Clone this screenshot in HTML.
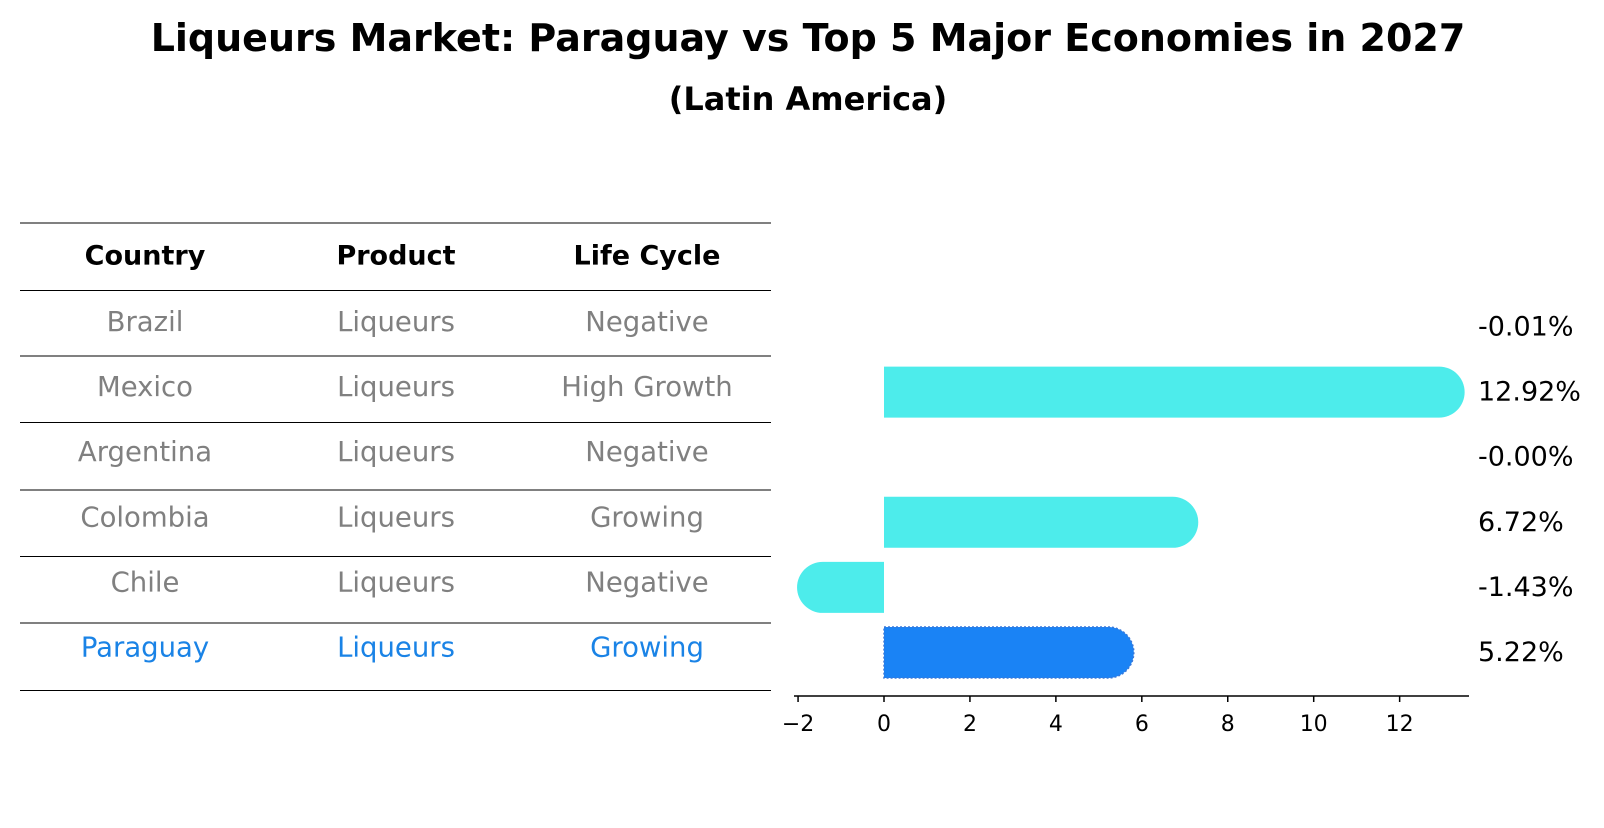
<!DOCTYPE html>
<html><head><meta charset="utf-8"><style>
body{margin:0;background:#fff;font-family:"Liberation Sans","DejaVu Sans",sans-serif;}
</style></head><body>
<svg id="chart" width="1604" height="823" xmlns="http://www.w3.org/2000/svg" font-family="DejaVu Sans, Liberation Sans, sans-serif">
<text x="808" y="38" text-anchor="middle" dominant-baseline="central" font-size="38" font-weight="bold">Liqueurs Market: Paraguay vs Top 5 Major Economies in 2027</text>
<text x="808" y="99" text-anchor="middle" dominant-baseline="central" font-size="32" font-weight="bold">(Latin America)</text>
<g id="table"></g>
<g id="bars"></g>
</svg>
<script>
const countries=["Brazil","Mexico","Argentina","Colombia","Chile","Paraguay"];
const products=["Liqueurs","Liqueurs","Liqueurs","Liqueurs","Liqueurs","Liqueurs"];
const lifeCycles=["Negative","High Growth","Negative","Growing","Negative","Growing"];
const values=[-0.01,12.92,-0.00,6.72,-1.43,5.22];
const valueLabels=["-0.01%","12.92%","-0.00%","6.72%","-1.43%","5.22%"];
const ticks=[-2,0,2,4,6,8,10,12];
const NS="http://www.w3.org/2000/svg";
function mk(tag,attrs,parent){const e=document.createElementNS(NS,tag);for(const k in attrs)e.setAttribute(k,attrs[k]);parent.appendChild(e);return e;}
const x=v=>884+v*42.97;
const rowY=i=>327+i*65.1;
const tbl=document.getElementById('table');
const lines=[223,290.5,356,422.5,490,556.5,623,690.5];
lines.forEach((ly,i)=>{const l=mk('line',{x1:20,x2:771,y1:ly,y2:ly,stroke:'#000','stroke-width':1},tbl);

});
const colX=[145,396,647];
["Country","Product","Life Cycle"].forEach((h,j)=>{const t=mk('text',{x:colX[j],y:256,'text-anchor':'middle','dominant-baseline':'central','font-size':27,'font-weight':'bold'},tbl);t.textContent=h;

});
countries.forEach((c,i)=>{const col=i===5?'#1a83e6':'#808080';
[c,products[i],lifeCycles[i]].forEach((v,j)=>{const t=mk('text',{x:colX[j],y:rowY(i)-5,'text-anchor':'middle','dominant-baseline':'central','font-size':27.5,fill:col},tbl);t.textContent=v;

});});
const g=document.getElementById('bars');
const h=51,r=25.5;
values.forEach((v,i)=>{const cy=rowY(i);const x0=x(0),x1=x(v);
if(Math.abs(v)>0.05){const s=v>=0?1:-1;
const d2=`M${x0},${cy-h/2} L${x1},${cy-h/2} A${r},${r} 0 0 ${s>0?1:0} ${x1},${cy+h/2} L${x0},${cy+h/2} Z`;
const p=mk('path',{d:d2,fill:i===5?'#1a83f5':'#4deceb'},g);
if(i===5){p.setAttribute('stroke','#3a78d8');p.setAttribute('stroke-dasharray','2,2');p.setAttribute('stroke-width','1.5');}

}
const t=mk('text',{x:1478,y:cy,'dominant-baseline':'central','font-size':27},g);t.textContent=valueLabels[i];

});
const ax=mk('line',{x1:794,x2:1469,y1:696,y2:696,stroke:'#000','stroke-width':1.5},g);


ticks.forEach(tv=>{const tk=mk('line',{x1:x(tv),x2:x(tv),y1:696,y2:702,stroke:'#000','stroke-width':1.5},g);


const t=mk('text',{x:x(tv),y:731,'text-anchor':'middle','font-size':22},g);t.textContent=tv<0?'\u2212'+Math.abs(tv):tv;

});
</script>
</body></html>
